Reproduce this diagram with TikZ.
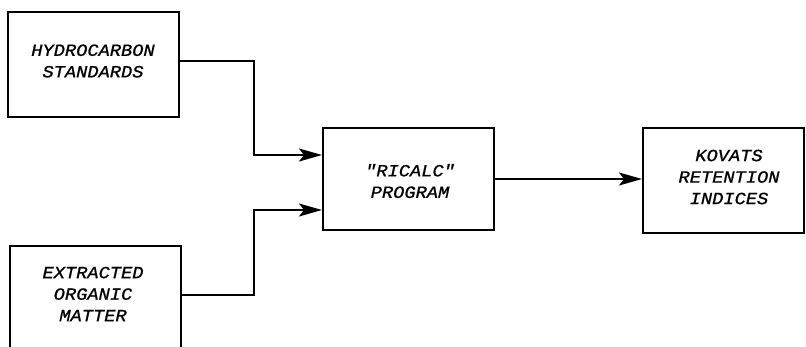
\documentclass[tikz,border=0pt]{standalone}
\usepackage{fontspec}
\newfontfamily\boxfont[FakeStretch=1.1,FakeBold=0.9]{Liberation Mono}
\usetikzlibrary{arrows.meta}
\begin{document}
\begin{tikzpicture}[x=1pt,y=-1pt,
  box/.style={draw, line width=2pt, rectangle, inner sep=0pt},
  lbl/.style={font=\boxfont\itshape\fontsize{17}{21.5}\selectfont, align=center, inner sep=0pt},
  conn/.style={line width=2pt, -{Stealth[length=23pt,width=13pt,inset=5pt]}}]
\clip (0,0) rectangle (806,346);
\node[box, minimum width=171pt, minimum height=105pt] (b1) at (93.5,64.5) {};
\node[box, minimum width=171pt, minimum height=114pt] (b2) at (95.5,303) {};
\node[box, minimum width=171pt, minimum height=102pt] (b3) at (408.5,179) {};
\node[box, minimum width=161pt, minimum height=105pt] (b4) at (723.5,180.5) {};
\node[lbl] (t1) at (93,61) {HYDROCARBON\\STANDARDS};
\node[lbl] (t2) at (93,294) {EXTRACTED\\ORGANIC\\MATTER};
\node[lbl] (t3) at (410,181) {"RICALC"\\PROGRAM};
\node[lbl] (t4) at (729,177) {KOVATS\\RETENTION\\INDICES};
\draw[conn] ([yshift=3.5pt]b1.east) -- ++(74,0) |- ([yshift=24pt]b3.west);
\draw[conn] ([yshift=8pt]b2.east) -- ++(72,0) |- ([yshift=-31pt]b3.west);
\draw[conn] (b3.east) -- (b3.east -| b4.west);
\end{tikzpicture}
\end{document}
